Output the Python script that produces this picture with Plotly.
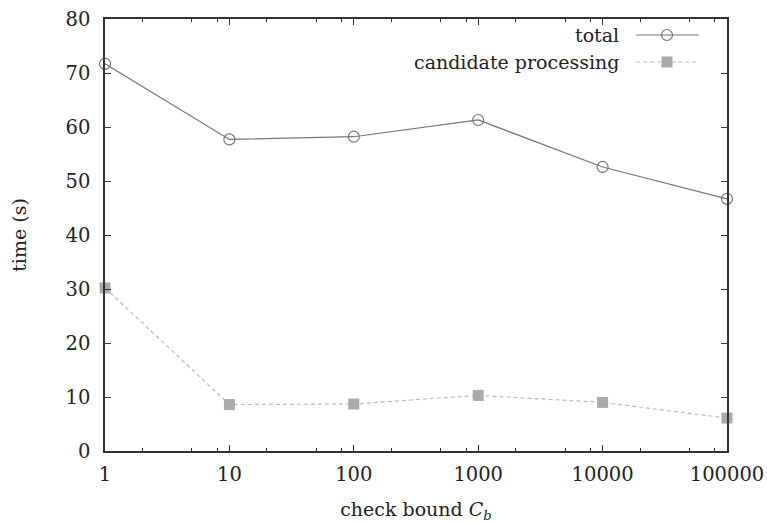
import plotly.graph_objects as go

bounds = [1, 10, 100, 1000, 10000, 100000]
tick_labels = ["1", "10", "100", "1000", "10000", "100000"]
total = [71.7, 57.7, 58.2, 61.3, 52.6, 46.7]
candidate = [30.2, 8.6, 8.7, 10.3, 9.0, 6.1]
y_ticks = [0, 10, 20, 30, 40, 50, 60, 70, 80]
minor_x = [m * 10 ** e for e in range(5) for m in (2, 5, 8)]

FONT = "DejaVu Serif"
TXT = "#222222"
AX = "#333333"
TOTAL_C = "#777777"
CAND_LINE = "#bbbbbb"
CAND_MARK = "#aaaaaa"

fig = go.Figure()
fig.add_trace(go.Scatter(
    x=bounds, y=total, mode="lines+markers", name="total",
    line=dict(color=TOTAL_C, width=1.2),
    marker=dict(symbol="circle-open", size=11, color=TOTAL_C, line=dict(width=1.2)),
    cliponaxis=False, showlegend=False))
fig.add_trace(go.Scatter(
    x=bounds, y=candidate, mode="lines+markers", name="candidate processing",
    line=dict(color=CAND_LINE, width=1.2, dash="4px,3px"),
    marker=dict(symbol="square", size=11, color=CAND_MARK),
    cliponaxis=False, showlegend=False))

# legend keys (gnuplot style: text on left, sample on right)
key_x = [0.854, 0.9035, 0.955]
fig.add_trace(go.Scatter(
    x=key_x, y=[0.963] * 3, xaxis="x2", yaxis="y2", mode="lines+markers",
    line=dict(color=TOTAL_C, width=1.2),
    marker=dict(symbol="circle-open", size=11, color=TOTAL_C, line=dict(width=1.2)),
    selectedpoints=[1], unselected=dict(marker=dict(opacity=0)),
    cliponaxis=False, showlegend=False, hoverinfo="skip"))
fig.add_trace(go.Scatter(
    x=key_x, y=[0.9005] * 3, xaxis="x2", yaxis="y2", mode="lines+markers",
    line=dict(color=CAND_LINE, width=1.2, dash="4px,3px"),
    marker=dict(symbol="square", size=11, color=CAND_MARK),
    selectedpoints=[1], unselected=dict(marker=dict(opacity=0)),
    cliponaxis=False, showlegend=False, hoverinfo="skip"))

fig.add_annotation(x=0.830, y=0.963, xref="x2", yref="y2", text="total",
                   showarrow=False, xanchor="right", yanchor="middle",
                   font=dict(family=FONT, size=19, color=TXT))
fig.add_annotation(x=0.830, y=0.9005, xref="x2", yref="y2", text="candidate processing",
                   showarrow=False, xanchor="right", yanchor="middle",
                   font=dict(family=FONT, size=19, color=TXT))

fig.update_layout(
    width=767, height=523,
    margin=dict(l=105, r=40, t=19, b=72, autoexpand=False),
    paper_bgcolor="white", plot_bgcolor="white",
    font=dict(family=FONT, size=19, color=TXT),
    xaxis=dict(
        type="log", range=[0, 5], automargin=False,
        tickvals=bounds, ticktext=tick_labels, ticklabelstandoff=5,
        ticks="inside", ticklen=6, tickwidth=1.2, tickcolor=AX,
        minor=dict(tickvals=minor_x, ticks="inside", ticklen=3, tickwidth=1.2,
                   tickcolor=AX, showgrid=False),
        showline=True, linecolor=AX, linewidth=1.5, mirror="allticks",
        showgrid=False, zeroline=False,
        title=dict(text="check bound <i>C</i><sub><i>b</i></sub>", standoff=21,
                   font=dict(family=FONT, size=19, color=TXT)),
        tickfont=dict(family=FONT, size=19.5, color=TXT),
    ),
    yaxis=dict(
        range=[0, 80], tickvals=y_ticks, automargin=False, ticklabelstandoff=9,
        ticks="inside", ticklen=6, tickwidth=1.2, tickcolor=AX,
        showline=True, linecolor=AX, linewidth=1.5, mirror="allticks",
        showgrid=False, zeroline=False,
        title=dict(text="time (s)", standoff=34,
                   font=dict(family=FONT, size=19, color=TXT)),
        tickfont=dict(family=FONT, size=19.5, color=TXT),
    ),
    xaxis2=dict(range=[0, 1], overlaying="x", visible=False, fixedrange=True),
    yaxis2=dict(range=[0, 1], overlaying="y", visible=False, fixedrange=True),
)

fig.write_html(
    "out.html",
    config={"displayModeBar": False},
    post_script="document.body.style.margin='0';document.body.style.overflow='hidden';",
)
